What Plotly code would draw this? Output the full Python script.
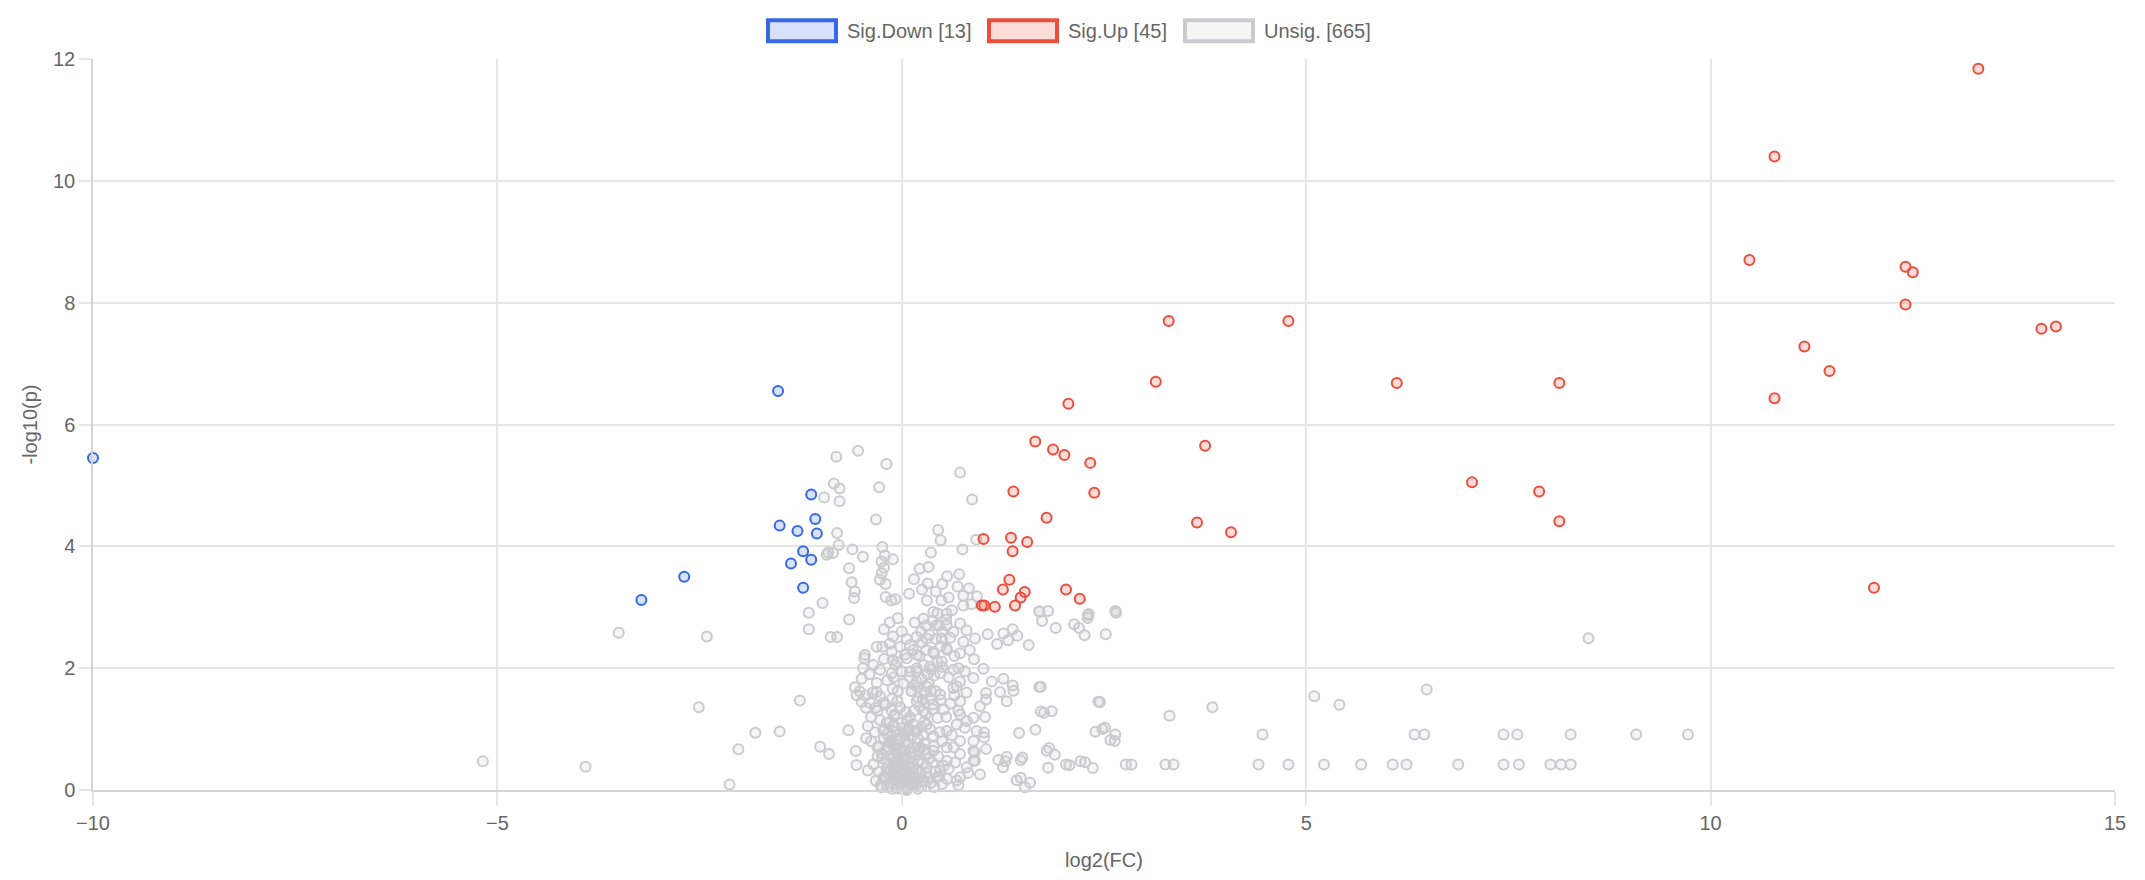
import plotly.graph_objects as go

# ---- data ----
down_fc = [-10.0, -1.53, -1.12, -1.51, -1.07, -1.29, -1.05, -1.22, -1.12, -1.37, -1.22, -2.69, -3.22]
down_p = [5.45, 6.55, 4.85, 4.34, 4.45, 4.25, 4.21, 3.92, 3.78, 3.72, 3.32, 3.50, 3.12]

up_fc = [13.31, 10.79, 10.48, 12.41, 12.50, 12.41, 14.09, 14.27, 11.16, 11.47, 10.79, 12.02,
         3.30, 4.78, 3.14, 6.12, 8.13, 2.06, 1.65, 1.87, 2.01, 2.33, 3.75, 7.05, 7.88, 8.13,
         1.38, 2.38, 1.79, 3.65, 4.07, 1.01, 1.35, 1.55, 1.37, 1.33, 1.25, 1.52, 1.47, 1.40,
         2.03, 2.20, 0.99, 1.02, 1.15]
up_p = [11.84, 10.40, 8.70, 8.59, 8.50, 7.97, 7.57, 7.61, 7.28, 6.88, 6.43, 3.32,
        7.70, 7.70, 6.70, 6.68, 6.68, 6.34, 5.72, 5.59, 5.50, 5.37, 5.65, 5.05, 4.90, 4.41,
        4.90, 4.88, 4.47, 4.39, 4.23, 4.12, 4.14, 4.07, 3.92, 3.45, 3.29, 3.25, 3.16, 3.03,
        3.29, 3.14, 3.03, 3.03, 3.01]

unsig_fc = [
    # far left
    -5.18, -3.91, -3.50, -2.41, -2.51, -2.13, -2.02, -1.81, -1.51, -1.26, -1.15, -1.15, -0.98,
    -0.65, -0.88, -0.80, -1.01, -0.90, -0.66, -0.57, -0.56, -0.44, -0.30, -0.42,
    # upper left of zero
    -0.81, -0.54, -0.19, 0.72, -0.84, -0.77, -0.96, -0.77, -0.28, 0.87, -0.32, -0.80, -0.78,
    -0.61, -0.91, -0.85, -0.93, -0.48, -0.65, -0.62, -0.58, -0.59, -0.24, -0.21, -0.11, -0.25,
    -0.22, -0.25, -0.27, -0.20, -0.20, -0.13, -0.08, 0.09,
    # upper right of zero
    0.45, 0.48, 0.92, 0.36, 0.75, 0.22, 0.33, 0.15, 0.32, 0.25, 0.56, 0.71, 0.50, 0.42, 0.69,
    0.83, 0.76, 0.93, 0.58, 0.49, 0.76, 0.86, 0.31, 1.70, 2.65, 2.30,
    # left column of the cluster
    -0.455, -0.463, -0.31, -0.24, -0.125, -0.112, -0.084, -0.125, -0.269, -0.496, -0.578,
    -0.558, -0.496, -0.393, -0.442, -0.31, -0.31, -0.269, -0.112, -0.055, -0.228, -0.125,
    -0.092, -0.187, -0.228, -0.125, -0.154, -0.063, -0.112, -0.187, -0.228, -0.063, -0.249,
    -0.104, -0.022, -0.001, -0.042, 0.019, 0.061, -0.104, -0.05, -0.15, -0.22, -0.11,
    -0.35, -0.40, -0.48, -0.52, -0.45, -0.38, -0.30, -0.33, -0.42, -0.38, -0.30, -0.35,
    -0.28, -0.32, -0.25, -0.22, -0.27, -0.20, -0.18, -0.22, -0.15,
    # main column of the cluster
    0.184, 0.308, 0.494, 0.267, 0.39, 0.555, 0.72, 0.638, 0.761, 0.184, 0.39, 0.555, 0.72,
    0.184, 0.349, 0.473, 0.638, 0.72, 0.184, 0.308, 0.473, 0.39, 0.184, 0.267, 0.102, 0.308,
    0.184, 0.39, 0.555, 0.679, 0.802, 0.72, 0.555, 0.39, 0.226, 0.123, 0.184, 0.308, 0.473,
    0.432, 0.267, 0.102, 0.143, 0.081, 0.081, 0.123, 0.102, 0.102, 0.061, 0.432, 0.555,
    0.494, 0.638, 0.72, 0.72, 0.885, 0.926, 0.885, 0.72, 0.885, 0.802, 0.72, 0.679, 0.555,
    0.15, 0.22, 0.30, 0.38, 0.20, 0.28, 0.35, 0.42, 0.16, 0.25, 0.33, 0.40, 0.18, 0.27, 0.36,
    0.44, 0.22, 0.30, 0.40, 0.48, 0.25, 0.34, 0.42, 0.50, 0.30, 0.38, 0.46, 0.55, 0.60, 0.65,
    0.58, 0.65, 0.55, 0.62, 0.50, 0.45, 0.38, 0.42, 0.36, 0.50, 0.58,
    # dense base near zero
    -0.18, -0.12, -0.05, 0.02, 0.08, 0.14, 0.20, -0.15, -0.08, 0.00, 0.06, 0.12, 0.18, -0.20,
    -0.10, -0.02, 0.04, 0.10, 0.16, -0.14, -0.06, 0.02, 0.08, 0.14, 0.22, -0.18, -0.09,
    -0.01, 0.05, 0.12, 0.20, -0.13, -0.05, 0.03, 0.10, 0.17, -0.16, -0.08, 0.00, 0.07, 0.14,
    0.22, -0.12, -0.03, 0.05, 0.12, 0.20, -0.18, -0.07, 0.02, 0.09, 0.16, -0.10, 0.00, 0.07,
    0.14, 0.24, 0.26, 0.28, 0.30, 0.26, 0.30, 0.27,
    # right of the cluster
    0.906, 1.062, 1.178, 1.256, 1.371, 1.429, 1.314, 1.569, 1.701, 1.734, 1.903, 2.192, 2.299,
    2.522, 2.649, 0.893, 1.009, 0.885, 1.112, 1.256, 1.371, 1.38, 1.215, 1.297, 1.718, 1.042,
    1.042, 0.967, 1.029, 2.451, 1.759, 1.854, 1.45, 1.652, 2.394, 2.513, 2.633, 1.017, 1.017,
    1.042, 0.885, 1.792, 1.891, 1.194, 1.297, 1.491, 1.252, 1.808, 2.072, 2.266, 2.361, 0.967,
    0.906, 1.524, 1.586,
    # far right
    3.84, 3.31, 5.10, 5.41, 6.49, 8.49, 4.41, 4.78, 5.22, 5.68, 6.07, 6.24, 6.34, 6.46, 6.88,
    7.44, 7.61, 7.44, 7.63, 8.02, 8.15, 8.27, 8.27, 9.08, 9.72, 4.46, 3.36, 3.26, 2.84, 2.77,
    2.64, 2.43, 2.48, 2.58, 2.21, 2.03, 2.26, 2.64, 2.31, 2.13, 1.81, 1.70, 1.72, 1.82, 1.47,
    1.42, 1.47, 1.28,
]
unsig_p = [
    0.47, 0.38, 2.58, 2.52, 1.36, 0.09, 0.67, 0.94, 0.96, 1.47, 2.91, 2.64, 3.07,
    2.80, 2.51, 2.51, 0.71, 0.59, 0.98, 0.64, 0.41, 0.85, 0.70, 0.32,
    5.47, 5.57, 5.35, 5.21, 5.03, 4.95, 4.80, 4.74, 4.97, 4.77, 4.44, 4.22, 4.02,
    3.95, 3.90, 3.89, 3.86, 3.83, 3.64, 3.41, 3.26, 3.15, 3.99, 3.85, 3.79, 3.75,
    3.65, 3.56, 3.45, 3.38, 3.17, 3.11, 3.13, 3.22,
    4.27, 4.10, 4.11, 3.90, 3.95, 3.63, 3.66, 3.46, 3.39, 3.29, 3.51, 3.54, 3.38, 3.26, 3.34,
    3.31, 3.19, 3.18, 3.16, 3.11, 3.03, 3.05, 3.11, 2.93, 2.91, 2.87,
    2.216, 2.162, 2.352, 2.352, 2.271, 2.135, 2.054, 1.918, 1.972, 1.826, 1.685,
    1.555, 1.446, 1.43, 1.349, 1.755, 1.609, 1.538, 1.663, 1.457, 1.43, 1.305,
    1.213, 1.105, 0.98, 0.888, 0.779, 0.643, 0.508, 0.345, 0.21, 0.101, 0.047,
    0.752, 0.481, 0.318, 0.21, 0.047, 0.0, 0.372, 2.82, 2.75, 2.64, 2.52,
    2.05, 1.90, 2.00, 1.62, 1.55, 1.20, 1.30, 0.95, 1.05, 0.80, 0.55, 0.42,
    0.30, 0.15, 0.60, 0.85, 1.15, 1.40, 1.80, 2.15, 2.40,
    2.515, 2.488, 2.488, 2.813, 2.922, 2.894, 2.732, 2.596, 2.433, 2.216, 2.271, 2.325, 2.244,
    2.0, 2.027, 1.918, 1.972, 1.782, 1.782, 1.701, 1.566, 1.403, 1.457, 1.294, 1.186, 1.077,
    0.969, 0.888, 0.969, 1.077, 1.132, 0.806, 0.698, 0.643, 0.698, 0.535, 0.318, 0.372, 0.318,
    0.21, 0.155, 0.101, 0.291, 0.752, 0.969, 1.62, 1.945, 2.379, 2.162, 2.705, 2.705,
    2.108, 1.674, 1.457, 1.24, 1.186, 0.969, 0.806, 0.589, 0.481, 0.372, 0.21, 0.155, 0.481,
    1.30, 1.38, 1.25, 1.33, 1.52, 1.60, 1.50, 1.62, 1.72, 1.82, 1.75, 1.88, 1.95, 2.05, 1.98,
    2.10, 2.20, 2.30, 2.24, 2.36, 2.42, 2.55, 2.48, 2.60, 2.70, 2.78, 2.70, 2.80, 2.50, 2.20,
    1.85, 1.55, 1.20, 0.90, 0.80, 0.55, 0.45, 0.30, 0.12, 0.10, 0.35,
    0.05, 0.02, 0.03, 0.01, 0.04, 0.06, 0.02, 0.12, 0.15, 0.12, 0.14, 0.18, 0.10, 0.22,
    0.25, 0.20, 0.24, 0.28, 0.22, 0.33, 0.36, 0.32, 0.38, 0.35, 0.30, 0.44, 0.46,
    0.42, 0.50, 0.45, 0.48, 0.57, 0.60, 0.55, 0.62, 0.58, 0.68, 0.72, 0.66, 0.74, 0.70,
    0.66, 0.82, 0.85, 0.80, 0.88, 0.84, 0.92, 0.96, 0.93, 1.00, 0.97, 1.06, 1.10, 1.14,
    1.08, 1.04, 0.90, 0.76, 0.60, 0.44, 0.28, 0.14,
    2.488, 2.558, 2.395, 2.569, 2.639, 2.531, 2.46, 2.379, 2.932, 2.775, 2.661, 2.661, 2.824,
    2.558, 2.921, 2.146, 1.989, 1.837, 1.782, 1.826, 1.717, 1.631, 1.609, 1.457, 1.696, 1.593,
    1.484, 1.376, 1.197, 1.446, 1.267, 1.294, 0.936, 0.991, 0.958, 1.023, 0.806, 0.942, 0.86,
    0.671, 0.643, 0.643, 0.578, 0.492, 0.546, 0.535, 0.372, 0.367, 0.405, 0.454, 0.361, 0.253,
    0.481, 0.047, 0.117,
    1.36, 1.22, 1.54, 1.40, 1.65, 2.49, 0.42, 0.42, 0.42, 0.42, 0.42, 0.42, 0.91, 0.91, 0.42,
    0.91, 0.91, 0.42, 0.42, 0.42, 0.42, 0.42, 0.91, 0.91, 0.91, 0.91, 0.42, 0.42, 0.42, 0.42,
    0.91, 1.45, 1.00, 0.82, 0.47, 0.42, 2.54, 2.94, 2.89, 2.72, 2.94, 1.69, 1.29, 0.69, 0.49,
    0.16, 0.20, 0.47,
]

# extra points filling the crowded core of the grey cloud
core_fc = [
    -0.26, -0.21, -0.17, -0.11, -0.04, 0.03, -0.24, -0.19, -0.13, -0.06, 0.01, -0.21, -0.15,
    -0.09, -0.02, 0.05, 0.10, -0.28, -0.32, -0.36, -0.12, -0.05, 0.02, -0.10, 0.00, -0.06,
    0.04, -0.02, 0.06, 0.00,
    0.12, 0.19, 0.24, 0.33, 0.40, 0.46, 0.52, 0.34, 0.28, 0.40, 0.47, 0.35, 0.28, 0.44, 0.52,
    0.60, 0.68, 0.48, 0.36, 0.26, 0.12, 0.20, 0.10, 0.32, 0.50, 0.56, 0.70, 0.14, 0.24, 0.16,
    0.44, 0.62, 0.80, 0.84, 0.78, 0.80, 0.70, 0.78, 0.64, 0.66, 0.56, 0.70, 0.82, 0.90,
]
core_p = [
    0.08, 0.18, 0.28, 0.38, 0.52, 0.64, 0.52, 0.64, 0.76, 0.90, 1.02, 1.00, 1.12,
    1.24, 1.36, 1.28, 1.20, 0.72, 1.35, 1.60, 1.50, 1.62, 1.75, 1.85, 1.95, 2.10,
    2.22, 2.35, 2.48, 2.60,
    0.08, 0.16, 0.06, 0.20, 0.05, 0.22, 0.40, 0.52, 0.66, 0.72, 0.95, 1.00, 1.12, 1.18, 1.32,
    1.42, 1.70, 1.48, 1.62, 1.48, 1.62, 1.68, 1.85, 1.90, 2.02, 2.30, 2.00, 2.30, 2.60, 2.75,
    2.90, 2.95, 2.62, 2.30, 1.95, 1.60, 1.30, 1.02, 0.70, 0.45, 0.18, 0.08, 0.28, 0.62,
]

labels = ["Sig.Down [13]", "Sig.Up [45]", "Unsig. [665]"]
x_ticks = [-10, -5, 0, 5, 10, 15]
y_ticks = [0, 2, 4, 6, 8, 10, 12]

BLUE = "rgb(55,105,230)"
BLUE_F = "rgba(55,105,230,0.2)"
RED = "rgb(235,78,60)"
RED_F = "rgba(235,78,60,0.2)"
GRAY = "rgb(201,203,207)"
GRAY_F = "rgba(201,203,207,0.2)"
FONT = "Liberation Sans, Arial, sans-serif"
TXT = "#666666"
GRID = "#e6e6e6"

W, H = 2145, 880
ML, MR, MT, MB = 93, 30, 59, 83
PW = W - ML - MR
PH = H - MT - MB


def px(x):
    # page pixel -> paper fraction
    return (x - ML) / PW


def py(y):
    return (H - MB - y) / PH


def dots(xs, ys, line, fill, name):
    return go.Scatter(
        x=xs, y=ys, mode="markers", name=name, cliponaxis=False,
        marker=dict(size=10, color=fill, line=dict(color=line, width=2)),
        hovertemplate="log2(FC): %{x}<br>-log10(p): %{y}<extra>" + name + "</extra>",
    )


fig = go.Figure()
# chart.js paints the first dataset on top, so go in reverse
fig.add_trace(dots(unsig_fc + core_fc, unsig_p + core_p, GRAY, GRAY_F, labels[2]))
fig.add_trace(dots(up_fc, up_p, RED, RED_F, labels[1]))
fig.add_trace(dots(down_fc, down_p, BLUE, BLUE_F, labels[0]))

# legend drawn by hand so the swatches are wide boxes like chart.js
legend_items = [
    (labels[0], BLUE, BLUE_F, 766),
    (labels[1], RED, RED_F, 987),
    (labels[2], GRAY, GRAY_F, 1183),
]
for text, line, fill, left in legend_items:
    fig.add_shape(
        type="rect", xref="paper", yref="paper",
        x0=px(left + 2), x1=px(left + 70), y0=py(41), y1=py(20),
        line=dict(color=line, width=4), fillcolor=fill,
    )
    fig.add_annotation(
        x=px(left + 79), y=py(31), xref="paper", yref="paper",
        text=text, showarrow=False, xanchor="left", yanchor="middle",
        font=dict(family=FONT, size=20, color=TXT),
    )

axis_common = dict(
    showgrid=True, gridcolor=GRID, gridwidth=1.5,
    zeroline=False, showline=True, linecolor="#d4d4d4", linewidth=1.5,
    ticks="outside", tickcolor=GRID, tickwidth=1.5,
    tickfont=dict(family=FONT, size=20, color=TXT),
)
fig.update_xaxes(
    range=[-10, 15], tickvals=x_ticks, ticklen=14,
    title=dict(text="log2(FC)", font=dict(family=FONT, size=20, color=TXT), standoff=20),
    **axis_common,
)
fig.update_yaxes(
    range=[0, 12], tickvals=y_ticks, ticklen=12,
    title=dict(text="-log10(p)", font=dict(family=FONT, size=20, color=TXT), standoff=10),
    **axis_common,
)

fig.update_layout(
    width=W, height=H,
    margin=dict(l=ML, r=MR, t=MT, b=MB),
    showlegend=False,
    plot_bgcolor="white", paper_bgcolor="white",
    font=dict(family=FONT, color=TXT),
)

# drop the default body margin so the figure sits flush with the window
fig.write_html(
    "out.html",
    config={"displayModeBar": False},
    post_script="document.body.style.margin = '0';",
)
